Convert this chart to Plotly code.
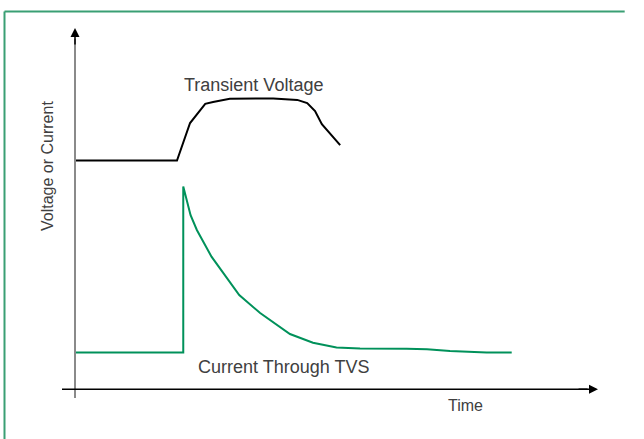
import plotly.graph_objects as go

# ---- data (arbitrary units) ----
time_voltage = [0, 19.5, 22.0, 24.9, 26.4, 29.6, 37.9, 42.5, 44.4, 45.9, 47.2, 50.7]
transient_voltage = [63.3, 63.3, 73.7, 79.0, 79.5, 80.4, 80.5, 80.1, 79.2, 77.0, 73.4, 67.6]

time_current = [0, 20.7, 20.7, 22.1, 23.3, 26.1, 31.4, 35.4, 41.1, 45.5, 50.0, 54.5, 63.4, 67.3, 71.7, 78.7, 83.5]
current_tvs = [10.2, 10.2, 56.1, 48.2, 44.1, 36.7, 26.1, 21.1, 15.3, 12.9, 11.6, 11.3, 11.2, 11.1, 10.6, 10.2, 10.2]

label_voltage = "Transient Voltage"
label_current = "Current Through TVS"
x_title = "Time"
y_title = "Voltage or Current"

# ---- layout geometry ----
W, H = 644, 439
ox, oy = 75, 389.3        # pixel position of the axis origin
sx = (598 - ox) / 100.0   # px per x unit
sy = (oy - 28) / 100.0    # px per y unit
xr = [-ox / sx, (W - ox) / sx]
yr = [-(H - oy) / sy, oy / sy]

GREEN = "#00915a"
FRAME = "#3a9f74"
TEXT = "#404040"
FONT = "Liberation Sans, Arial, sans-serif"

fig = go.Figure()
fig.add_trace(go.Scatter(x=time_voltage, y=transient_voltage, mode="lines",
                         line=dict(color="black", width=2), hoverinfo="skip"))
fig.add_trace(go.Scatter(x=time_current, y=current_tvs, mode="lines",
                         line=dict(color=GREEN, width=2), hoverinfo="skip"))

fx = 4.5 / W
fy = 1 - 11.5 / H
shapes = [
    # outer green frame (top and left edges; the others lie outside the view)
    dict(type="line", xref="paper", yref="paper", x0=fx, x1=0.97, y0=fy, y1=fy,
         line=dict(color=FRAME, width=2), layer="below"),
    dict(type="line", xref="paper", yref="paper", x0=fx, x1=fx, y0=0, y1=fy,
         line=dict(color=FRAME, width=2), layer="below"),
    # y axis shaft
    dict(type="line", xref="x", yref="y", x0=0, x1=0, y0=-(398 - oy) / sy, y1=97,
         line=dict(color="#8a8a8a", width=2)),
    # x axis shaft
    dict(type="line", xref="x", yref="y", x0=(62 - ox) / sx, x1=98, y0=0, y1=0,
         line=dict(color="black", width=1.5)),
]

annotations = [
    dict(x=0, y=100, ax=0, ay=95, xref="x", yref="y", axref="x", ayref="y", text="",
         showarrow=True, arrowhead=2, arrowsize=1.2, arrowwidth=1.5, arrowcolor="black"),
    dict(x=100, y=0, ax=96, ay=0, xref="x", yref="y", axref="x", ayref="y", text="",
         showarrow=True, arrowhead=2, arrowsize=1.2, arrowwidth=1.5, arrowcolor="black"),
    dict(x=(253 - ox) / sx, y=(oy - 85) / sy, xref="x", yref="y", text=label_voltage,
         showarrow=False, xanchor="center", yanchor="middle",
         font=dict(family=FONT, size=18, color=TEXT)),
    dict(x=(283 - ox) / sx, y=(oy - 367) / sy, xref="x", yref="y", text=label_current,
         showarrow=False, xanchor="center", yanchor="middle",
         font=dict(family=FONT, size=18, color=TEXT)),
    dict(x=(465 - ox) / sx, y=(oy - 405) / sy, xref="x", yref="y", text=x_title,
         showarrow=False, xanchor="center", yanchor="middle",
         font=dict(family=FONT, size=16, color=TEXT)),
    dict(x=(47 - ox) / sx, y=(oy - 166) / sy, xref="x", yref="y", text=y_title,
         showarrow=False, xanchor="center", yanchor="middle", textangle=-90,
         font=dict(family=FONT, size=16, color=TEXT)),
]

fig.update_layout(
    width=W, height=H, margin=dict(l=0, r=0, t=0, b=0),
    paper_bgcolor="white", plot_bgcolor="white", showlegend=False,
    xaxis=dict(visible=False, range=xr, fixedrange=True),
    yaxis=dict(visible=False, range=yr, fixedrange=True),
    shapes=shapes, annotations=annotations,
)

fig.write_html("out.html", config=dict(displayModeBar=False),
               post_script="document.body.style.margin='0';document.body.style.overflow='hidden';")
